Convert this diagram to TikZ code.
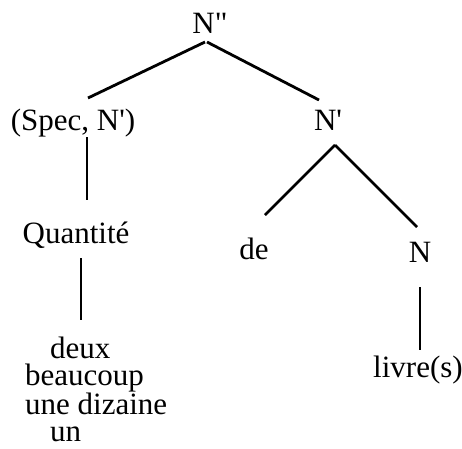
\documentclass[tikz,border=0pt]{standalone}
\usepackage{fontspec}
\setmainfont{Liberation Serif}[Ligatures=TeXOff]
\begin{document}
\begin{tikzpicture}[x=1pt,y=-1pt,
  lbl/.style={anchor=base,inner sep=0pt,font=\fontsize{31}{27}\selectfont},
  edge/.style={line width=2.8pt}]
\useasboundingbox (0,0) rectangle (462,448);
\node[lbl] (top) at (210,33) {N"};
\node[lbl] (spec) at (73,130) {(Spec, N')};
\node[lbl] (nbar) at (328,130) {N'};
\node[lbl] (quant) at (76,243) {Quantité};
\node[lbl] (de) at (254,259) {de};
\node[lbl] (n) at (420,262) {N};
\node[lbl] (livre) at (418,377) {livre(s)};
\node[lbl,anchor=north west,align=left] (stack) at (25,337)
  {\hspace*{25pt}deux\\beaucoup\\une dizaine\\\hspace*{25pt}un};
\draw[edge] ([shift={(-5,9)}]top.base) -- ([shift={(15,-32)}]spec.base);
\draw[edge] ([shift={(-3,9)}]top.base) -- ([shift={(-9,-30)}]nbar.base);
\draw[edge] ([shift={(14,7)}]spec.base) -- ([shift={(11,-43)}]quant.base);
\draw[edge] ([shift={(7,15)}]nbar.base) -- ([shift={(11,-44)}]de.base);
\draw[edge] ([shift={(7,15)}]nbar.base) -- ([shift={(-3,-35)}]n.base);
\draw[edge] ([shift={(5,15)}]quant.base) -- ([shift={(56,-17)}]stack.north west);
\draw[edge] ([shift={(0,25)}]n.base) -- ([shift={(2,-27)}]livre.base);
\end{tikzpicture}
\end{document}
